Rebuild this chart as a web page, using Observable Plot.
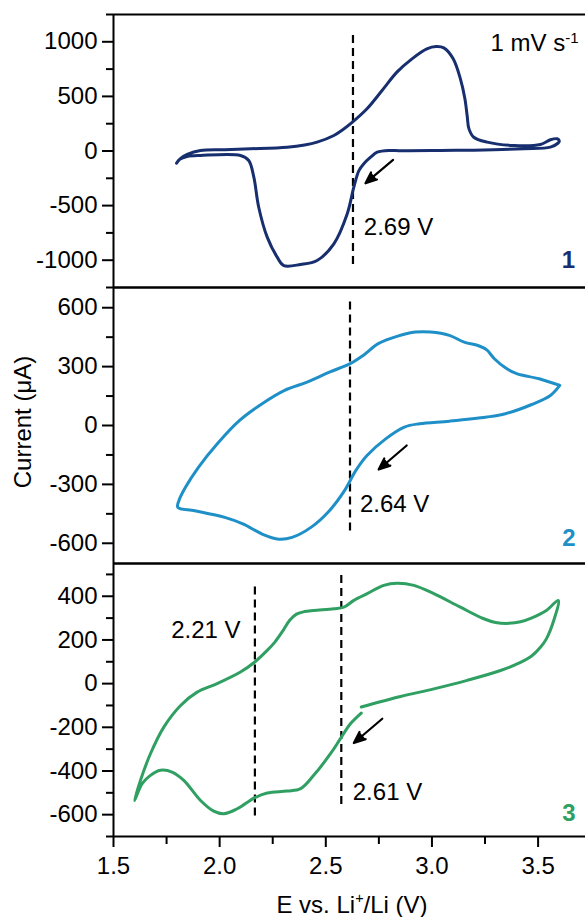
<!DOCTYPE html>
<html>
<head>
<meta charset="utf-8">
<script src="https://cdn.jsdelivr.net/npm/d3@7"></script>
<script src="https://cdn.jsdelivr.net/npm/@observablehq/plot@0.6"></script>
<style>
  html, body { margin: 0; padding: 0; background: white; }
  #wrap { position: relative; width: 585px; height: 917px; overflow: hidden; font-family: "Liberation Sans", Arial, sans-serif; color: #000; }
  #wrap svg { position: absolute; left: 0; top: 0; }
  .lab { position: absolute; font-size: 24px; white-space: nowrap; line-height: 1; }
  .lab sup { font-size: 0.6em; vertical-align: 0.7em; line-height: 0; }
</style>
</head>
<body>
<div id="wrap"></div>
<script>
// ---------- data ----------
// Panel 1 (navy) cyclic voltammogram: potential (V) and current (µA)
const cv1E = [1.797,1.815,1.847,1.910,2.024,2.145,2.318,2.400,2.459,2.538,2.580,2.624,2.694,2.765,2.835,2.906,2.976,3.020,3.056,3.100,3.134,3.155,3.166,3.174,3.197,3.260,3.386,3.511,3.558,3.590,3.600,3.593,3.558,3.433,3.197,3.040,2.844,2.805,2.742,2.711,2.679,2.656,2.632,2.601,2.538,2.459,2.381,2.302,2.271,2.224,2.184,2.161,2.137,2.098,1.910,1.847,1.812,1.797];
const cv1I = [-112,-70,-32,5,12,20,35,55,81,142,195,262,387,554,722,844,935,956,944,844,660,480,320,205,126,81,50,60,103,112,90,71,35,20,8,5,3,5,-11,-57,-117,-179,-331,-575,-850,-1003,-1039,-1049,-972,-789,-515,-240,-87,-41,-41,-50,-75,-112];

// Panel 2 (blue)
const cv2E = [3.602,3.505,3.399,3.346,3.294,3.258,3.223,3.152,3.082,2.994,2.923,2.835,2.747,2.676,2.615,2.517,2.412,2.306,2.200,2.094,1.988,1.900,1.839,1.808,1.803,1.883,2.024,2.112,2.200,2.279,2.341,2.430,2.517,2.588,2.641,2.694,2.782,2.870,2.941,3.082,3.258,3.346,3.470,3.558,3.602];
const cv2I = [204,238,264,294,340,385,405,425,459,476,476,454,417,357,315,272,221,179,111,26,-94,-213,-315,-383,-417,-434,-468,-502,-553,-579,-570,-519,-434,-332,-230,-153,-68,-8,9,22,43,60,107,153,204];

// Panel 3 (green)
const cv3E = [2.667,2.852,3.009,3.166,3.323,3.417,3.468,3.510,3.539,3.574,3.595,3.539,3.468,3.417,3.363,3.300,3.244,3.134,3.009,2.915,2.836,2.773,2.695,2.632,2.585,2.538,2.443,2.400,2.362,2.330,2.300,2.260,2.224,2.164,2.098,1.988,1.894,1.816,1.737,1.674,1.627,1.599,1.635,1.674,1.721,1.776,1.831,1.910,1.972,2.020,2.083,2.164,2.224,2.318,2.381,2.443,2.522,2.569,2.616,2.667];
const cv3I = [-107,-59,-24,15,60,97,125,165,205,290,381,335,300,283,276,280,297,350,412,450,460,450,412,381,350,343,335,330,318,290,245,190,152,98,53,0,-39,-100,-199,-321,-443,-535,-458,-420,-397,-405,-443,-535,-584,-596,-573,-523,-501,-492,-481,-420,-321,-252,-184,-135];

// Axis ticks
const xMajor = [1.5, 2.0, 2.5, 3.0, 3.5];
const xMinor = [1.75, 2.25, 2.75, 3.25, 3.75];
const y1Major = [-1000, -500, 0, 500, 1000];
const y1Minor = [-1250, -750, -250, 250, 750, 1250];
const y2Major = [-600, -300, 0, 300, 600];
const y2Minor = [-450, -150, 150, 450];
const y3Major = [-600, -400, -200, 0, 200, 400];
const y3Minor = [-700, -500, -300, -100, 100, 300, 500];

// Annotations: dashed guide lines
const dashPanel = [1, 2, 3, 3];
const dashE = [2.628, 2.614, 2.166, 2.573];
const dashTop = [1058, 629, 442, 495];
const dashBottom = [-1067, -561, -619, -565];

// Arrows (tail -> head)
const arrowPanel = [1, 2, 3];
const arrowE1 = [2.817, 2.881, 2.766];
const arrowI1 = [-81, -102, -161];
const arrowE2 = [2.687, 2.749, 2.632];
const arrowI2 = [-295, -224, -272];

// Potential labels
const labPanel = [1, 2, 3, 3];
const labText = ["2.69 V", "2.64 V", "2.21 V", "2.61 V"];
const labE = [2.679, 2.661, 1.772, 2.627];
const labI = [-698, -400, 244, -497];

// Panel numbers
const numText = ["1", "2", "3"];
const numE = [3.643, 3.645, 3.645];
const numI = [-1003, -573, -593];
const colors = ["#172f6f", "#1f8fc8", "#2f9f62"];

// ---------- helpers ----------
const W = 585, H = 917;
const X0 = 1.5, X1 = 1.5 + (W - 113) / 212.3;
const FONT = "'Liberation Sans', Arial, sans-serif";

function rows(p) {
  const E = p === 1 ? cv1E : p === 2 ? cv2E : cv3E;
  const I = p === 1 ? cv1I : p === 2 ? cv2I : cv3I;
  return E.map((e, i) => ({e, i: I[i]}));
}
const dashes = dashPanel.map((p, k) => ({p, e: dashE[k], top: dashTop[k], bot: dashBottom[k]}));
const arrows = arrowPanel.map((p, k) => ({p, e1: arrowE1[k], i1: arrowI1[k], e2: arrowE2[k], i2: arrowI2[k]}));
const labs = labPanel.map((p, k) => ({p, t: labText[k], e: labE[k], i: labI[k]}));
const nums = numText.map((t, k) => ({p: k + 1, t, e: numE[k], i: numI[k]}));

function panel(p, cfg) {
  const marks = [
    Plot.ruleX([X0], {stroke: "#000", strokeWidth: 2}),
    Plot.ruleY(cfg.domain, {stroke: "#000", strokeWidth: 2}),
    Plot.axisY(cfg.minor, {tickSize: 7, tickFormat: () => "", strokeWidth: 2, label: null}),
    Plot.axisY(cfg.major, {tickSize: 11, tickPadding: 5, tickFormat: d => String(d), strokeWidth: 2, label: null, fontSize: 24}),
    Plot.ruleX(dashes.filter(d => d.p === p), {x: "e", y1: "top", y2: "bot", stroke: "#000", strokeWidth: 2.2, strokeDasharray: "8,5"}),
    Plot.line(rows(p), {x: "e", y: "i", stroke: colors[p - 1], strokeWidth: 3, curve: "catmull-rom"}),
    Plot.arrow(arrows.filter(d => d.p === p), {x1: "e1", y1: "i1", x2: "e2", y2: "i2", stroke: "#000", strokeWidth: 2.2, headLength: 12, headAngle: 45}),
    Plot.text(labs.filter(d => d.p === p), {x: "e", y: "i", text: "t", textAnchor: "start", fontSize: 24, fill: "#000"}),
    Plot.text(nums.filter(d => d.p === p), {x: "e", y: "i", text: "t", textAnchor: "middle", fontSize: 24, fontWeight: "bold", fill: colors[p - 1]})
  ];
  if (p === 1) {
    marks.push(Plot.text(["1 mV s-1"], {x: 3.276, y: 984, text: d => d, textAnchor: "start", fontSize: 24, fill: "#000"}));
  }
  if (p === 3) {
    marks.push(Plot.axisX(xMinor, {anchor: "bottom", tickSize: 8, tickFormat: () => "", strokeWidth: 2, label: null}));
    marks.push(Plot.axisX(xMajor, {anchor: "bottom", tickSize: 11, tickPadding: 9, tickFormat: d => d.toFixed(1), strokeWidth: 2, label: null, fontSize: 24}));
  }
  return Plot.plot({
    width: W, height: H,
    marginLeft: 113, marginRight: 0,
    marginTop: cfg.top, marginBottom: H - cfg.bottom,
    x: {domain: [X0, X1], axis: p === 3 ? undefined : null},
    y: {domain: cfg.domain, label: null},
    style: {background: "transparent", fontFamily: FONT, fontSize: "24px", color: "#000", overflow: "visible"},
    marks
  });
}

const wrap = document.getElementById("wrap");
const svgs = [
  panel(1, {domain: [-1250, 1250], major: y1Major, minor: y1Minor, top: 14, bottom: 287}),
  panel(2, {domain: [-703, 703], major: y2Major, minor: y2Minor, top: 287, bottom: 563}),
  panel(3, {domain: [-700, 550], major: y3Major, minor: y3Minor, top: 563, bottom: 836})
];
svgs.forEach(s => wrap.appendChild(s));

// filled arrowheads: the head sub-path closes into a triangle when filled
svgs.forEach(s => d3.select(s).selectAll('g[aria-label="arrow"] path').attr("fill", "#000").attr("stroke-linejoin", "miter"));

// superscript in the scan-rate label
d3.select(svgs[0]).selectAll("text").filter(function () { return this.textContent === "1 mV s-1"; })
  .each(function () {
    const t = d3.select(this);
    t.text("1 mV s");
    t.append("tspan").attr("dy", "-0.55em").attr("font-size", "15px").text("-1");
  });

// axis titles
const yl = document.createElement("div");
yl.className = "lab";
yl.innerHTML = "Current (\u03bcA)";
yl.style.left = "23px"; yl.style.top = "422px";
yl.style.transform = "translate(-50%,-50%) rotate(-90deg)";
wrap.appendChild(yl);

const xl = document.createElement("div");
xl.className = "lab";
xl.innerHTML = "E vs. Li<sup>+</sup>/Li (V)";
xl.style.left = "352px"; xl.style.top = "905px";
xl.style.transform = "translate(-50%,-50%)";
wrap.appendChild(xl);
</script>
</body>
</html>
